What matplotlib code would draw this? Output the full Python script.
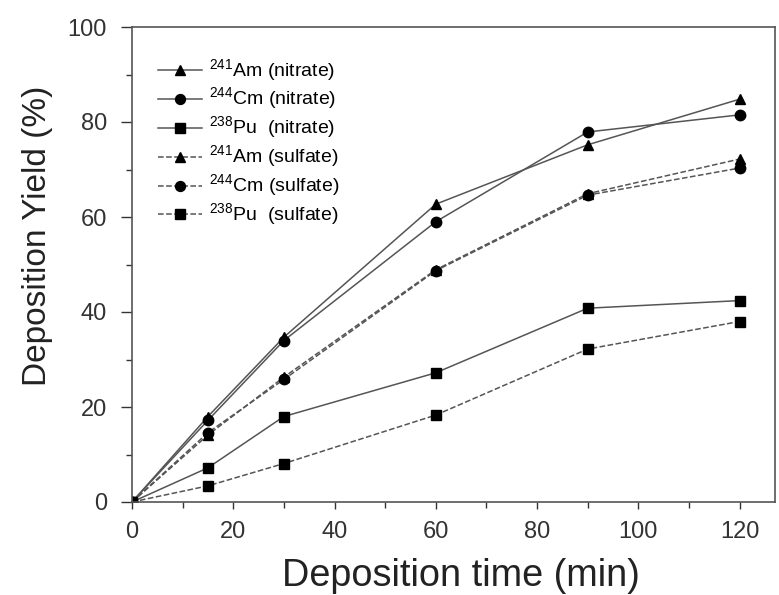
import numpy as np
import matplotlib.pyplot as plt

plt.rcParams['font.family'] = ['Liberation Sans', 'DejaVu Sans']
plt.rcParams['mathtext.fontset'] = 'custom'
plt.rcParams['mathtext.rm'] = 'Liberation Sans'

# ---- data ----
t = [0, 15, 30, 60, 90, 120]

am_nitrate = [0, 18.0, 34.7, 62.7, 75.2, 84.8]
cm_nitrate = [0, 17.2, 34.0, 59.0, 77.9, 81.5]
pu_nitrate = [0, 7.2, 18.0, 27.2, 40.8, 42.4]
am_sulfate = [0, 14.1, 26.3, 48.9, 64.9, 72.2]
cm_sulfate = [0, 14.6, 25.8, 48.7, 64.6, 70.3]
pu_sulfate = [0, 3.4, 8.1, 18.3, 32.2, 38.0]

labels = [r'$^{241}$Am (nitrate)', r'$^{244}$Cm (nitrate)', r'$^{238}$Pu  (nitrate)',
          r'$^{241}$Am (sulfate)', r'$^{244}$Cm (sulfate)', r'$^{238}$Pu  (sulfate)']

series = [am_nitrate, cm_nitrate, pu_nitrate, am_sulfate, cm_sulfate, pu_sulfate]
markers = ['^', 'o', 's', '^', 'o', 's']
styles = ['-', '-', '-', '--', '--', '--']

fig = plt.figure(figsize=(7.79, 5.95), dpi=100)
ax = fig.add_axes([132/779, 93/595, (775-132)/779, (502-27)/595])

for y, m, ls, lab in zip(series, markers, styles, labels):
    ax.plot(t, y, linestyle=ls, color='#555555', linewidth=1.1,
            marker=m, markersize=7.5, markerfacecolor='black',
            markeredgecolor='black', label=lab)

ax.set_xlim(0, 127)
ax.set_ylim(0, 100)
ax.set_xticks(np.arange(0, 121, 20))
ax.set_xticks(np.arange(10, 127, 20), minor=True)
ax.set_yticks(np.arange(0, 101, 20))
ax.set_yticks(np.arange(10, 100, 20), minor=True)
ax.tick_params(which='major', direction='out', width=1,
               labelsize=17, colors='#333333', labelcolor='#333333')
ax.tick_params(which='minor', direction='out', length=4, width=1, colors='#333333')
ax.tick_params(axis='x', which='major', length=5, pad=9)
ax.tick_params(axis='y', which='major', length=8, pad=10)
for s in ax.spines.values():
    s.set_color('#555555')
    s.set_linewidth(1.2)

ax.set_xlabel('Deposition time (min)', fontsize=27.3, color='#222222')
ax.set_ylabel('Deposition Yield (%)', fontsize=24, color='#222222')
ax.xaxis.set_label_coords(0.512, -0.118)
ax.yaxis.set_label_coords(-0.123, 0.561)

ax.legend(loc='upper left', bbox_to_anchor=(0.040, 0.937), frameon=False,
          borderpad=0, borderaxespad=0,
          fontsize=14, handlelength=2.3, labelspacing=0.12, handletextpad=0.35,
          markerscale=0.95)

fig.savefig('out.png', dpi=100)
